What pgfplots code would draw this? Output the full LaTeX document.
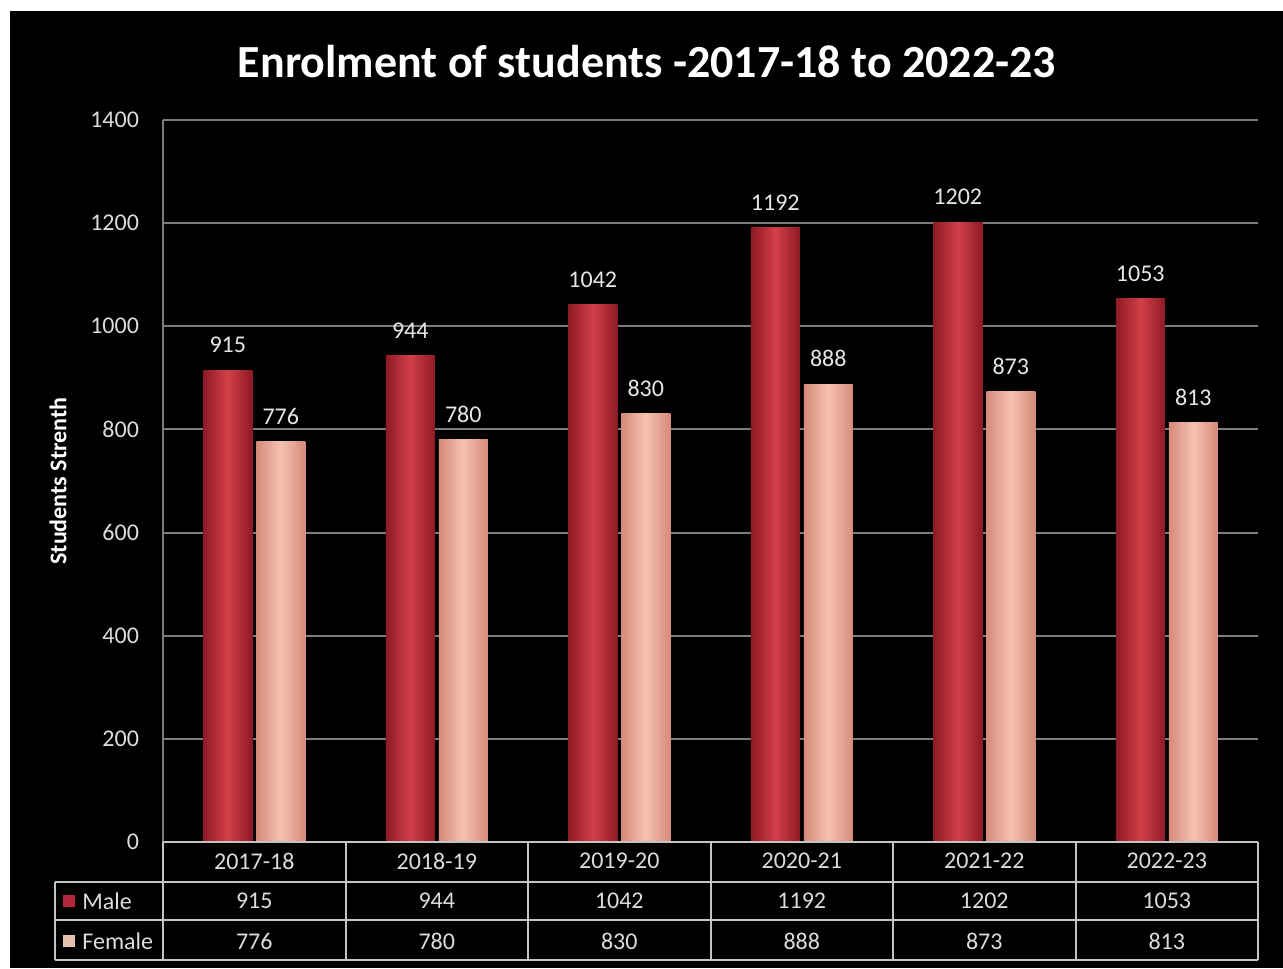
\documentclass[border=0pt]{standalone}
\usepackage{fontspec}
\setmainfont{Carlito}
\usepackage{pgfplots}
\usepackage{pgfplotstable}
\pgfplotsset{compat=1.18}
\definecolor{maleA}{HTML}{8E1A25}
\definecolor{maleB}{HTML}{D23F48}
\definecolor{femA}{HTML}{D68A7A}
\definecolor{femB}{HTML}{F5C2B0}
\definecolor{gridc}{HTML}{7C7C7C}
\definecolor{txt}{HTML}{DCDCDC}
\definecolor{lab}{HTML}{E4E8E4}
\definecolor{tabline}{HTML}{C4C4C4}
\definecolor{legM}{HTML}{B3283C}
\definecolor{legF}{HTML}{E6BFAE}

\pgfplotstableread{
x male female
0 915 776
1 944 780
2 1042 830
3 1192 888
4 1202 873
5 1053 813
}\enrol

\begin{document}
\begin{tikzpicture}[x=0.5pt,y=0.5pt]
\useasboundingbox (0,0) rectangle (1283,968);
\fill[white] (0,0) rectangle (1283,968);
\fill[black] (10,0) rectangle (1283,957);
\node[font=\bfseries\fontsize{23}{27}\selectfont, text=white] at (647,906) {Enrolment of students -2017-18 to 2022-23};
\begin{axis}[
  at={(81.5pt,63pt)}, anchor=south west,
  scale only axis, width=547.5pt, height=361pt,
  xmin=-0.5, xmax=5.5, ymin=0, ymax=1400,
  clip=false,
  axis line style={draw=none},
  ytick={0,200,...,1400},
  xtick={0,...,5},
  xticklabels={2017-18,2018-19,2019-20,2020-21,2021-22,2022-23},
  major tick length=0pt,
  ymajorgrids, grid style={draw=gridc, line width=1pt},
  /pgf/number format/1000 sep={},
  /pgf/number format/assume math mode=true,
  tick label style={font=\fontsize{12}{14}\selectfont, text=txt},
  yticklabel style={xshift=-8.5pt},
  xticklabel style={yshift=-2pt},
  ylabel={Students Strenth},
  every axis y label/.style={at={(axis description cs:-0.0959,0.5)}, anchor=center, rotate=90, font=\bfseries\fontsize{12}{14}\selectfont, text=white},
]
\pgfplotsinvokeforeach{-0.2:0.2, 0.8:1.2, 1.8:2.2, 2.8:3.2, 3.8:4.2, 4.8:5.2}{
\addplot[ybar, bar width=24.5pt, bar shift=-13.25pt, draw=none,
  left color=maleA, right color=maleA, middle color=maleB,
  restrict x to domain=#1,
  nodes near coords,
  every node near coord/.append style={font=\fontsize{12}{14}\selectfont, text=lab, anchor=south, xshift=-13.25pt, yshift=5pt}]
  table[x=x, y=male]{\enrol};
\addplot[ybar, bar width=24.5pt, bar shift=13.25pt, draw=none,
  left color=femA, right color=femA, middle color=femB,
  restrict x to domain=#1,
  nodes near coords,
  every node near coord/.append style={font=\fontsize{12}{14}\selectfont, text=lab, anchor=south, xshift=13.25pt, yshift=5pt}]
  table[x=x, y=female]{\enrol};
}
% data table rows
\addplot[only marks, mark=*, mark size=0pt, mark options={draw=none, fill=none},
  nodes near coords, point meta=explicit,
  every node near coord/.append style={font=\fontsize{12}{14}\selectfont, text=txt, anchor=center}]
  table[x=x, y expr=-114.6, meta=male]{\enrol};
\addplot[only marks, mark=*, mark size=0pt, mark options={draw=none, fill=none},
  nodes near coords, point meta=explicit,
  every node near coord/.append style={font=\fontsize{12}{14}\selectfont, text=txt, anchor=center}]
  table[x=x, y expr=-192.2, meta=female]{\enrol};
% axis left line
\draw[gridc, line width=1pt] (axis cs:-0.5,0) -- (axis cs:-0.5,1400);
% table lines
\draw[tabline, line width=1pt] (axis cs:-0.5,0) -- (axis cs:5.5,0);
\draw[tabline, line width=1pt] (axis cs:-1.092,-77.6) -- (axis cs:5.5,-77.6);
\draw[tabline, line width=1pt] (axis cs:-1.092,-151.3) -- (axis cs:5.5,-151.3);
\draw[tabline, line width=1pt] (axis cs:-1.092,-228.8) -- (axis cs:5.5,-228.8);
\draw[tabline, line width=1pt] (axis cs:-1.092,-77.6) -- (axis cs:-1.092,-228.8);
\foreach \k in {-0.5,0.5,1.5,2.5,3.5,4.5,5.5} {
  \edef\temp{\noexpand\draw[tabline, line width=1pt] (axis cs:\k,0) -- (axis cs:\k,-228.8);}
  \temp
}
\end{axis}
\fill[legM] (63,61) rectangle (75,73);
\node[anchor=west, inner sep=0pt, font=\fontsize{12}{14}\selectfont, text=txt] at (82,67) {Male};
\fill[legF] (63,21) rectangle (75,33);
\node[anchor=west, inner sep=0pt, font=\fontsize{12}{14}\selectfont, text=txt] at (82,27) {Female};
\end{tikzpicture}
\end{document}
